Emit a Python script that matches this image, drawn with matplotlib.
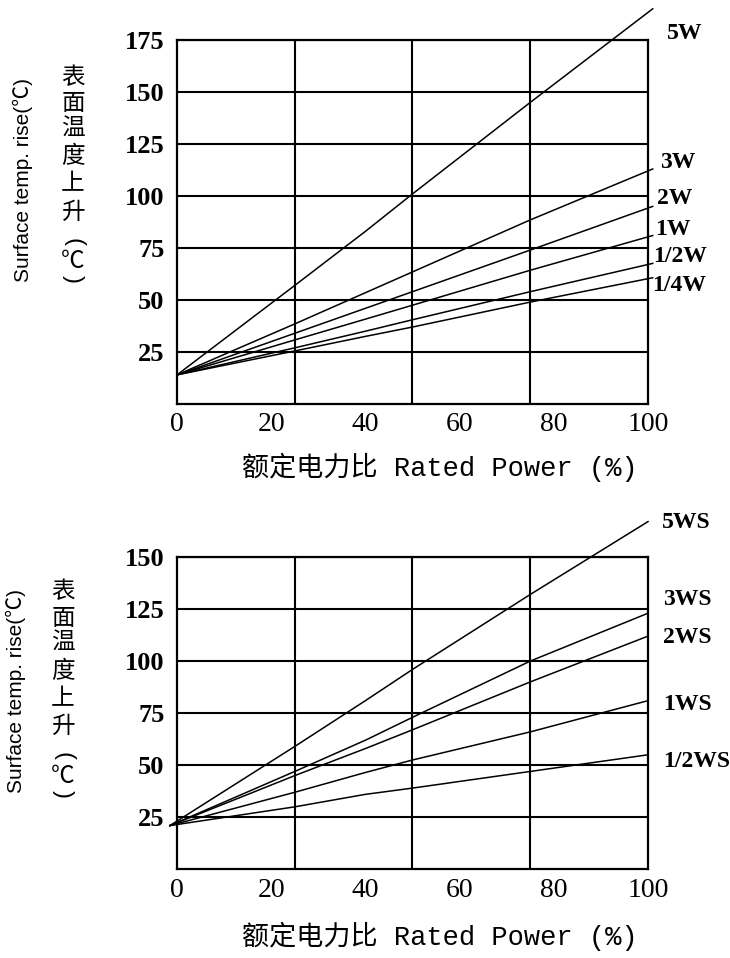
import matplotlib
matplotlib.use("Agg")
import matplotlib.pyplot as plt

# top chart: W series, surface temp rise vs rated power
top_x = [0, 25, 40, 50, 75, 101]
top_series = {
    "5W":   [14, 57, 83, 101, 145, 190],
    "3W":   [14, 38.5, 53.5, 63.5, 88.5, 113],
    "2W":   [14, 34, 46, 54, 74, 95],
    "1W":   [14, 30.8, 40.8, 47.5, 64.3, 81],
    "1/2W": [14, 27, 35, 40.5, 54, 67.6],
    "1/4W": [14, 25.5, 32.5, 37, 49, 60.7],
}
top_label_pos = {"5W": (104, 178), "3W": (102.5, 116), "2W": (101.9, 99),
                 "1W": (101.5, 83.7), "1/2W": (101.1, 70.8), "1/4W": (100.8, 57.2)}

# bottom chart: WS series
bot_x = [-1.5, 25, 40, 50, 75, 100]
bot_series = {
    "5WS":   [21, 59, 81, 96, 132, 167],
    "3WS":   [21, 47, 62, 73, 100, 123],
    "2WS":   [21, 45, 58, 67, 90, 112],
    "1WS":   [21, 37, 46.5, 52.5, 66, 81],
    "1/2WS": [21, 30, 36, 39, 47, 55],
}
bot_label_pos = {"5WS": (103, 166.5), "3WS": (103.2, 129.5), "2WS": (103.2, 111.2),
                 "1WS": (103.2, 79), "1/2WS": (103.2, 51.7)}

x_ticks = [0, 20, 40, 60, 80, 100]
x_grid = [25, 50, 75]
top_yticks = [25, 50, 75, 100, 125, 150, 175]
bot_yticks = [25, 50, 75, 100, 125, 150]

cn_chars = ["表", "面", "温", "度", "上", "升", "(", "℃", ")"]
en_ylabel = "Surface temp. rise(℃)"
xlabel = "额定电力比 Rated Power (%)"

W, H = 730, 958
fig = plt.figure(figsize=(7.3, 9.58), dpi=100)


def setup(ax, ymax, yticks):
    ax.set_xlim(0, 100)
    ax.set_ylim(0, ymax)
    ax.set_xticks(x_ticks)
    ax.set_xticklabels([str(v) for v in x_ticks], family="Liberation Serif", fontsize=20)
    ax.set_yticks(yticks)
    ax.set_yticklabels([str(v) for v in yticks], family="Liberation Serif",
                       fontweight="bold", fontsize=19)
    ax.tick_params(axis="both", length=0)
    ax.tick_params(axis="x", pad=6)
    ax.tick_params(axis="y", pad=9)
    for v in x_grid:
        ax.axvline(v, color="black", lw=1.5, zorder=1)
    for v in yticks:
        ax.axhline(v, color="black", lw=1.5, zorder=1)
    for s in ax.spines.values():
        s.set_linewidth(1.6)
        s.set_color("black")


ax1 = fig.add_axes([177 / W, 1 - 404 / H, 471 / W, 364 / H])
setup(ax1, 175, top_yticks)
for name, vals in top_series.items():
    ax1.plot(top_x, vals, color="black", lw=1.1, clip_on=False, zorder=3)
    lx, ly = top_label_pos[name]
    ax1.text(lx, ly, name, family="Liberation Serif", fontweight="bold",
             fontsize=17, ha="left", va="center", clip_on=False)

ax2 = fig.add_axes([177 / W, 1 - 869.3 / H, 471 / W, 312.3 / H])
setup(ax2, 150, bot_yticks)
for name, vals in bot_series.items():
    ax2.plot(bot_x, vals, color="black", lw=1.1, clip_on=False, zorder=3)
    lx, ly = bot_label_pos[name]
    ax2.text(lx, ly, name, family="Liberation Serif", fontweight="bold",
             fontsize=17, ha="left", va="center", clip_on=False)

# y labels: english rotated, chinese stacked vertically
cn_offsets = [77.5, 104, 129, 157, 184, 212, 242, 262, 279]
for (ex, ey, cx, cy0) in [(23, 180, 73, 0), (16, 691, 63, 514.5)]:
    fig.text(ex / W, 1 - ey / H, en_ylabel, rotation=90, ha="center", va="center",
             family=["Liberation Sans", "Noto Sans CJK SC"], fontsize=15)
    for ch, off in zip(cn_chars, cn_offsets):
        if ch in "()":
            # vertical-form brackets: rotate the normal ones
            fig.text(cx / W, 1 - (off + cy0) / H, ch, ha="center", va="center",
                     rotation=-90, family="Liberation Sans", fontsize=17)
        else:
            fig.text(cx / W, 1 - (off + cy0) / H, ch, ha="center", va="center",
                     family=["Noto Sans CJK SC"], fontsize=17)

# x labels
for ly in [467, 936]:
    fig.text(440 / W, 1 - ly / H, xlabel, ha="center", va="center",
             family=["Liberation Mono", "Noto Sans CJK SC"], fontsize=19.5)

fig.savefig("out.png", dpi=100)
